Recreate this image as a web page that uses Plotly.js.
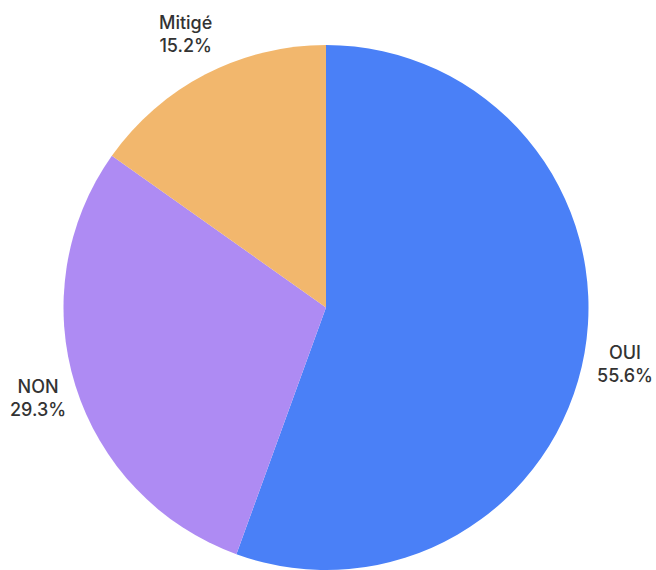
<!DOCTYPE html>
<html>
<head>
<meta charset="utf-8">
<script src="https://cdn.plot.ly/plotly-3.0.1.min.js"></script>
<style>html,body{margin:0;padding:0;background:#fff;overflow:hidden}</style>
</head>
<body>
<div id="chart" style="width:656px;height:570px"></div>
<script>
const labels = ["OUI", "NON", "Mitigé"];
const values = [55.6, 29.3, 15.2];
const colors = ["#4a80f7", "#ae8bf3", "#f2b76d"];
// label placement (paper coordinates) – styling only
const labelPos = [[1.068, 0.392], [-0.048, 0.328], [0.232, 1.02]];

const annotations = labels.map((l, i) => ({
  xref: "paper", yref: "paper",
  x: labelPos[i][0], y: labelPos[i][1],
  xanchor: "center", yanchor: "middle", align: "center",
  showarrow: false,
  text: l + "<br>" + values[i].toFixed(1) + "%",
  font: {family: "Inter, sans-serif", size: 18, color: "#333333", weight: 500}
}));

Plotly.newPlot("chart", [{
  type: "pie",
  labels: labels,
  values: values,
  sort: false,
  direction: "clockwise",
  rotation: 0,
  marker: {colors: colors, line: {width: 0}},
  textposition: "none",
  hoverinfo: "label+value",
  showlegend: false
}], {
  width: 656,
  height: 570,
  margin: {l: 63, r: 67, t: 45, b: 0},
  paper_bgcolor: "#ffffff",
  showlegend: false,
  annotations: annotations
}, {displayModeBar: false, staticPlot: true});
</script>
</body>
</html>
